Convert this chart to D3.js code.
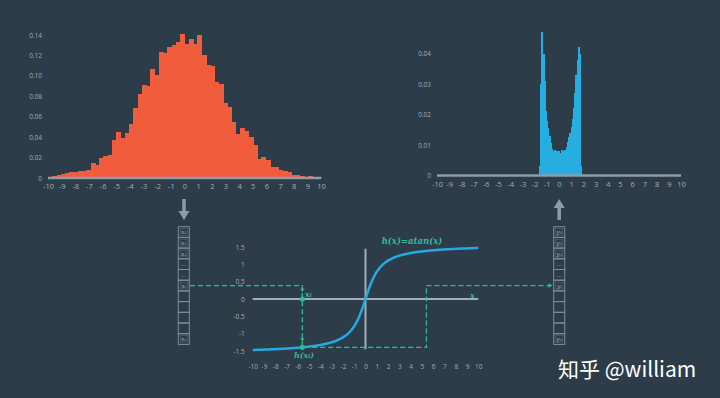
<!DOCTYPE html>
<html>
<head>
<meta charset="utf-8">
<script src="https://cdn.jsdelivr.net/npm/d3@7"></script>
<style>
  body { margin: 0; background: #2c3c49; }
  svg { display: block; }
  .tick text { fill: #a3aeb8; font-family: "Open Sans", sans-serif; }
</style>
</head>
<body>
<svg id="fig" width="720" height="398"></svg>
<script>
// input histogram (density), 64 bins from -10 to 10
var inBinWidth = 0.3125;
var inDensity = [0.001,0.002,0.003,0.004,0.005,0.006,0.006,0.007,0.007,0.008,
  0.015,0.013,0.020,0.022,0.023,0.037,0.045,0.039,0.044,0.053,
  0.069,0.082,0.091,0.090,0.107,0.101,0.123,0.122,0.128,0.130,
  0.133,0.141,0.131,0.136,0.131,0.140,0.120,0.111,0.110,0.094,
  0.092,0.073,0.070,0.055,0.043,0.049,0.046,0.040,0.032,0.019,
  0.021,0.018,0.011,0.011,0.008,0.007,0.006,0.003,0.003,0.002,
  0.001,0.002,0.001,0.0005];

// output histogram after atan, 35 bins from -1.65
var outStart = -1.65, outBinWidth = 0.1;
var outDensity = [0.003,0.030,0.047,0.040,0.031,0.021,0.018,0.0155,0.013,0.0105,
  0.0088,0.0080,0.0085,0.0072,0.0080,0.0075,0.0080,0.0074,0.0082,0.0078,
  0.0080,0.0085,0.0095,0.011,0.0125,0.014,0.016,0.0185,0.022,0.027,
  0.033,0.038,0.042,0.040,0.003];

var xTicks = d3.range(-10, 11, 1);
var inYTicks = [0, 0.02, 0.04, 0.06, 0.08, 0.10, 0.12, 0.14];
var outYTicks = [0, 0.01, 0.02, 0.03, 0.04];
var fnYTicks = [-1.5, -1, -0.5, 0, 0.5, 1, 1.5];
var xLabels = ["x₁","x₂","x₃","...","...","xᵢ","","","","","xₙ"];
var yLabels = ["y₁","y₂","y₃","...","...","yᵢ","","","","","yₙ"];
var xi = -5.6, xBack = 5.4;

var teal = "#33b89d", gray = "#8d9cab";
var svg = d3.select("#fig");

var fmt = function(d){ return d === 0 ? "0" : d3.format(".2f")(d); };
var plain = function(d){ return String(d); };

// ---------- left histogram
var xL = d3.scaleLinear().domain([-10,10]).range([48,321]);
var yL = d3.scaleLinear().domain([0,0.14]).range([178,35]);

svg.append("g").attr("shape-rendering","crispEdges").selectAll("rect")
  .data(inDensity)
  .enter().append("rect")
  .attr("x", function(d,i){ return xL(-10 + i*inBinWidth); })
  .attr("width", function(d,i){ return xL(-10 + (i+1)*inBinWidth) - xL(-10 + i*inBinWidth) + 0.8; })
  .attr("y", function(d){ return yL(d); })
  .attr("height", function(d){ return yL(0) - yL(d); })
  .attr("fill", "#f15d3c");

svg.append("line").attr("x1", xL(-10)).attr("x2", xL(10))
  .attr("y1", yL(0)).attr("y2", yL(0))
  .attr("stroke", gray).attr("stroke-width", 2.5);

var gxL = svg.append("g").attr("transform","translate(0," + (yL(0)+3) + ")")
  .call(d3.axisBottom(xL).tickValues(xTicks).tickSize(0).tickFormat(plain));
gxL.select(".domain").remove();
gxL.selectAll("text").attr("font-size", 7.5);

var gyL = svg.append("g").attr("transform","translate(" + (xL(-10)-3) + ",0)")
  .call(d3.axisLeft(yL).tickValues(inYTicks).tickSize(0).tickFormat(fmt));
gyL.select(".domain").remove();
gyL.selectAll("text").attr("font-size", 6.5);

// ---------- right histogram
var xR = d3.scaleLinear().domain([-10,10]).range([437,681]);
var yR = d3.scaleLinear().domain([0,0.04]).range([175.5,53.5]);

svg.append("g").attr("shape-rendering","crispEdges").selectAll("rect")
  .data(outDensity)
  .enter().append("rect")
  .attr("x", function(d,i){ return xR(outStart + i*outBinWidth); })
  .attr("width", function(d,i){ return xR(outStart + (i+1)*outBinWidth) - xR(outStart + i*outBinWidth) + 0.8; })
  .attr("y", function(d){ return yR(d); })
  .attr("height", function(d){ return yR(0) - yR(d); })
  .attr("fill", "#27aee0");

svg.append("line").attr("x1", xR(-10)).attr("x2", xR(10))
  .attr("y1", yR(0)).attr("y2", yR(0))
  .attr("stroke", gray).attr("stroke-width", 2.5);

var gxR = svg.append("g").attr("transform","translate(0," + (yR(0)+3) + ")")
  .call(d3.axisBottom(xR).tickValues(xTicks).tickSize(0).tickFormat(plain));
gxR.select(".domain").remove();
gxR.selectAll("text").attr("font-size", 7.5);

var gyR = svg.append("g").attr("transform","translate(" + (xR(-10)-3) + ",0)")
  .call(d3.axisLeft(yR).tickValues(outYTicks).tickSize(0).tickFormat(fmt));
gyR.select(".domain").remove();
gyR.selectAll("text").attr("font-size", 6.5);

// ---------- function plot
var xB = d3.scaleLinear().domain([-10,10]).range([252.7,478.3]);
var yB = d3.scaleLinear().domain([-1.5,1.5]).range([351,247]);

svg.append("line").attr("x1", xB(-10)).attr("x2", xB(10))
  .attr("y1", yB(0)).attr("y2", yB(0)).attr("stroke", "#a4adb6").attr("stroke-width", 2);
svg.append("line").attr("x1", xB(0)).attr("x2", xB(0))
  .attr("y1", yB(1.45)).attr("y2", yB(-1.45)).attr("stroke", "#a4adb6").attr("stroke-width", 2);

var gxB = svg.append("g").attr("transform","translate(0," + (yB(-1.5)+10) + ")")
  .call(d3.axisBottom(xB).tickValues(xTicks).tickSize(0).tickFormat(plain));
gxB.select(".domain").remove();
gxB.selectAll("text").attr("font-size", 6.5);

var gyB = svg.append("g").attr("transform","translate(" + (xB(-10)-5) + ",0)")
  .call(d3.axisLeft(yB).tickValues(fnYTicks).tickSize(0).tickFormat(plain));
gyB.select(".domain").remove();
gyB.selectAll("text").attr("font-size", 6.5);

var curve = d3.range(-10, 10.001, 0.1).map(function(x){ return [x, Math.atan(x)]; });
svg.append("path").datum(curve)
  .attr("d", d3.line().x(function(d){ return xB(d[0]); }).y(function(d){ return yB(d[1]); }))
  .attr("fill", "none").attr("stroke", "#25a9de").attr("stroke-width", 2.5);

svg.append("text").attr("x", 412).attr("y", 244).attr("text-anchor","middle")
  .attr("fill", teal).attr("font-family","DejaVu Serif").attr("font-style","italic")
  .attr("font-weight","bold").attr("font-size", 8.5).text("h(x)=atan(x)");

// ---------- vectors
var cellH = 10.7, boxTop = 226.7;
function vector(x0, labels){
  var g = svg.append("g");
  g.selectAll("rect.cell").data(labels).enter().append("rect")
    .attr("x", x0).attr("y", function(d,i){ return boxTop + i*cellH; })
    .attr("width", 11).attr("height", cellH)
    .attr("fill", "none").attr("stroke", "#7d8d9c").attr("stroke-width", 1);
  labels.forEach(function(d,i){
    if (d === "" || d === "...") return;
    g.append("rect").attr("x", x0+2).attr("y", boxTop + i*cellH + 2)
      .attr("width", 7).attr("height", cellH-4)
      .attr("fill", "none").attr("stroke", "#56677a").attr("stroke-width", 0.6);
  });
  g.selectAll("text").data(labels).enter().append("text")
    .attr("x", x0+5.5).attr("y", function(d,i){ return boxTop + i*cellH + 7.5; })
    .attr("text-anchor","middle").attr("fill", "#aab4be")
    .attr("font-family","DejaVu Serif").attr("font-style","italic").attr("font-size", 6)
    .text(function(d){ return d; });
}
vector(178.3, xLabels);
vector(553.7, yLabels);

// big arrows
svg.append("line").attr("x1",184).attr("x2",184).attr("y1",199).attr("y2",213)
  .attr("stroke", gray).attr("stroke-width", 3.5);
svg.append("path").attr("d","M178.5,211 L189.5,211 L184,220 Z").attr("fill", gray);
svg.append("line").attr("x1",559.2).attr("x2",559.2).attr("y1",206).attr("y2",220)
  .attr("stroke", gray).attr("stroke-width", 3.5);
svg.append("path").attr("d","M553.7,208 L564.7,208 L559.2,199 Z").attr("fill", gray);

// ---------- mapping path
var rowY = boxTop + 5.5*cellH;
var hx = Math.atan(xi);
var dash = svg.append("g").attr("fill","none").attr("stroke", teal)
  .attr("stroke-width", 1.3).attr("stroke-dasharray","5,3");
dash.append("path").attr("d",
  "M190," + rowY + " H" + xB(xi) + " V" + yB(hx) + " H" + xB(xBack) + " V" + rowY + " H551");

svg.append("path").attr("d","M552.5," + rowY + " l-4,-2.2 v4.4 Z").attr("fill", teal);
[rowY + 5, yB(hx) - 7].forEach(function(y){
  svg.append("path").attr("d","M" + (xB(xi)-2.2) + "," + (y-2) + " L" + (xB(xi)+2.2) + "," + (y-2) + " L" + xB(xi) + "," + (y+1.5) + " Z")
    .attr("fill", teal);
});
svg.append("circle").attr("cx", xB(xi)).attr("cy", yB(0)).attr("r", 2.6).attr("fill", teal);
svg.append("circle").attr("cx", xB(xi)).attr("cy", yB(hx)).attr("r", 2.6).attr("fill", teal);

function mathLabel(x, y, t){
  svg.append("text").attr("x", x).attr("y", y).attr("fill", teal)
    .attr("font-family","DejaVu Serif").attr("font-style","italic").attr("font-weight","bold")
    .attr("font-size", 8).text(t);
}
mathLabel(305, 297, "xᵢ");
mathLabel(470, 298, "x");
mathLabel(294, 358, "h(xᵢ)");

// watermark
svg.append("text").attr("x", 558).attr("y", 377)
  .attr("fill", "#ffffff").attr("font-family", "'Noto Sans CJK SC', 'Noto Sans'")
  .attr("font-size", 21).text("知乎 @william");
</script>
</body>
</html>
